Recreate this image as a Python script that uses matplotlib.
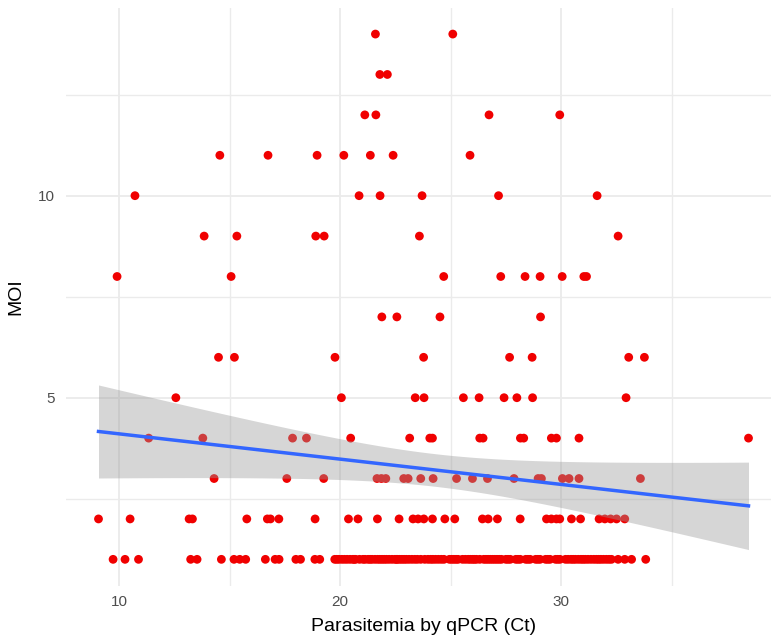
import numpy as np
import matplotlib
matplotlib.use("Agg")
import matplotlib.pyplot as plt
from matplotlib.ticker import FixedLocator

plt.rcParams['font.family'] = ['Liberation Sans', 'DejaVu Sans']

# Data: Ct value (x) per MOI level (y)
# (the MOI = 1 row is a dense run of overlapping points; values are estimated)
ct_moi1 = [9.73, 10.27, 10.88, 13.24, 13.53, 14.63, 15.2, 15.46, 15.73, 16.62, 17.06, 17.24,
           18.0, 18.21, 18.86, 19.08,
           19.76, 19.85, 19.95, 20.08, 20.2, 20.32, 20.45, 20.58, 20.64, 20.7, 20.88,
           21.04, 21.13,
           21.27, 21.36, 21.45, 21.58, 21.7, 21.8, 21.9, 22.0, 22.1, 22.22,
           22.35, 22.48, 22.55,
           22.6, 22.7, 22.8, 22.9, 23.0, 23.12, 23.25, 23.38, 23.5, 23.65, 23.83,
           23.98, 24.1, 24.2, 24.32, 24.45, 24.58, 24.7, 24.95, 25.05, 25.15, 25.25, 25.34,
           25.54, 25.67, 25.8, 25.9, 26.0, 26.08, 26.17,
           26.32, 26.5, 26.6, 26.7, 26.8, 26.9, 27.0, 27.1, 27.2, 27.3, 27.5,
           27.6, 27.7, 27.95, 28.05, 28.15, 28.4, 28.5, 28.6, 28.85,
           28.95, 29.05, 29.3, 29.4, 29.5, 29.75, 29.85, 29.95, 30.2,
           30.32, 30.45, 30.55, 30.65, 30.78, 30.9, 31.0, 31.1, 31.22, 31.35, 31.48, 31.6,
           31.7, 31.8, 31.92, 32.05, 32.17, 32.28, 32.58, 32.88, 33.19, 33.83]
ct_moi2 = [9.07, 10.5, 13.17, 13.32, 15.78, 16.71, 16.85, 17.23, 18.87, 20.38, 20.81,
           21.69, 22.67, 23.3, 23.53, 23.79, 24.18, 24.74, 25.19, 26.44, 26.7, 27.12,
           28.15, 29.34, 29.56, 29.79, 29.94, 30.47, 30.88, 31.72, 31.98, 32.24, 32.51, 32.88]
ct_moi3 = [14.3, 17.59, 19.26, 21.67, 21.87, 22.07, 22.88, 23.08, 23.65, 24.21, 25.27,
           25.99, 26.67, 27.87, 28.96, 29.11, 30.06, 30.36, 30.81, 33.59]
ct_moi4 = [11.34, 13.79, 17.85, 18.48, 20.48, 23.15, 24.06, 24.18, 26.32, 26.47, 28.16,
           28.31, 29.56, 29.79, 30.81, 38.48]
ct_moi5 = [12.57, 20.06, 23.4, 23.8, 25.58, 26.29, 27.42, 28.0, 28.71, 32.94]
ct_moi6 = [14.5, 15.22, 19.77, 23.78, 27.67, 28.69, 33.06, 33.77]
ct_moi7 = [21.89, 22.57, 24.52, 29.07]
ct_moi8 = [9.91, 15.07, 24.69, 27.27, 28.37, 29.05, 30.05, 31.03, 31.15]
ct_moi9 = [13.85, 15.33, 18.9, 19.28, 23.59, 32.58]
ct_moi10 = [10.72, 20.86, 21.81, 23.71, 27.17, 31.63]
ct_moi11 = [14.56, 16.74, 18.96, 20.17, 21.37, 22.4, 25.88]
ct_moi12 = [21.12, 21.62, 26.74, 29.94]
ct_moi13 = [21.8, 22.14]
ct_moi14 = [21.6, 25.1]

moi_levels = list(range(1, 15))
ct_groups = [ct_moi1, ct_moi2, ct_moi3, ct_moi4, ct_moi5, ct_moi6, ct_moi7,
             ct_moi8, ct_moi9, ct_moi10, ct_moi11, ct_moi12, ct_moi13, ct_moi14]

x = np.concatenate([np.asarray(g, float) for g in ct_groups])
y = np.concatenate([np.full(len(g), m, float) for g, m in zip(ct_groups, moi_levels)])

x_ticks = [10, 20, 30]
y_ticks = [5, 10]

# Linear fit with 95% confidence band (like geom_smooth(method="lm"))
n = len(x)
slope, intercept = np.polyfit(x, y, 1)
resid = y - (intercept + slope * x)
s = np.sqrt(np.sum(resid ** 2) / (n - 2))
xbar = x.mean()
sxx = np.sum((x - xbar) ** 2)
xs = np.linspace(x.min(), x.max(), 80)
ys = intercept + slope * xs
se = s * np.sqrt(1.0 / n + (xs - xbar) ** 2 / sxx)
tval = 1.969
lo, hi = ys - tval * se, ys + tval * se

W, H = 771, 639
fig = plt.figure(figsize=(W / 100, H / 100), dpi=100)
left_px, right_px, top_px, bot_px = 66, 781, 7.8, 585.6
ax = fig.add_axes([left_px / W, 1 - bot_px / H, (right_px - left_px) / W, (bot_px - top_px) / H])

xr = x.max() - x.min()
ax.set_xlim(x.min() - 0.05 * xr, x.max() + 0.05 * xr)
ax.set_ylim(1 - 0.05 * 13, 14 + 0.05 * 13)

ax.set_facecolor('white')
for sp in ax.spines.values():
    sp.set_visible(False)

ax.xaxis.set_major_locator(FixedLocator(x_ticks))
ax.yaxis.set_major_locator(FixedLocator(y_ticks))
ax.xaxis.set_minor_locator(FixedLocator([15, 25, 35]))
ax.yaxis.set_minor_locator(FixedLocator([2.5, 7.5, 12.5]))
ax.grid(True, which='major', color='#EBEBEB', linewidth=1.3)
ax.grid(True, which='minor', color='#EBEBEB', linewidth=1.0)
ax.set_axisbelow(True)
ax.tick_params(which='both', length=0)
ax.tick_params(axis='both', labelsize=11, labelcolor='#4D4D4D')
ax.tick_params(axis='x', pad=7)
ax.tick_params(axis='y', pad=8)

ax.scatter(x, y, s=40, color='#F00000', edgecolors='none', zorder=2)
ax.fill_between(xs, lo, hi, color='#999999', alpha=0.4, linewidth=0, zorder=3)
ax.plot(xs, ys, color='#3366FF', linewidth=2.5, zorder=4)

ax.set_xlabel('Parasitemia by qPCR (Ct)', fontsize=14, color='black', labelpad=6)
ax.set_ylabel('MOI', fontsize=14, color='black', labelpad=10)

fig.savefig('out.png', dpi=100)
